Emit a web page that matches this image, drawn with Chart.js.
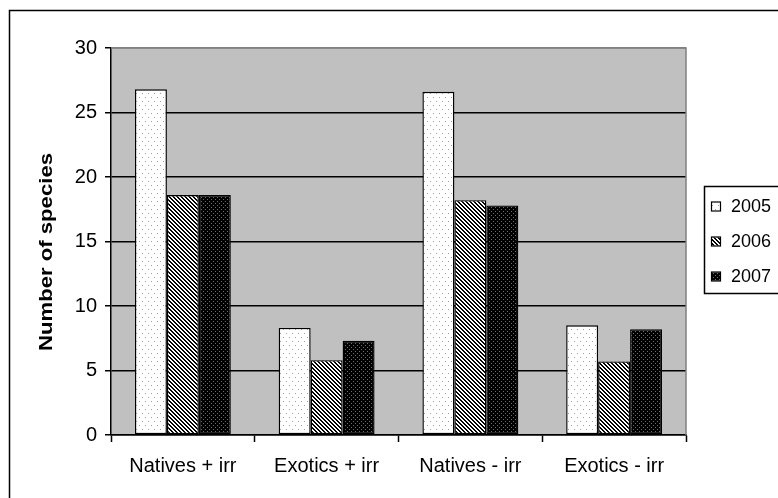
<!DOCTYPE html>
<html>
<head>
<meta charset="utf-8">
<script src="https://cdn.jsdelivr.net/npm/chart.js@4.4.1/dist/chart.umd.min.js"></script>
<style>
  html, body { margin: 0; padding: 0; background: #ffffff; }
  canvas { display: block; }
</style>
</head>
<body>
<canvas id="c" width="778" height="498"></canvas>
<script>
// Species counts per treatment and year
const categories = ['Natives + irr', 'Exotics + irr', 'Natives - irr', 'Exotics - irr'];
const years = ['2005', '2006', '2007'];
const values2005 = [26.8, 8.3, 26.6, 8.5];
const values2006 = [18.6, 5.8, 18.2, 5.7];
const values2007 = [18.6, 7.3, 17.8, 8.2];
const yTicks = [0, 5, 10, 15, 20, 25, 30];
const yTitle = 'Number of species';

const FONT = '"Liberation Sans", Arial, sans-serif';
const canvas = document.getElementById('c');
const mainCtx = canvas.getContext('2d');

// Build a small repeating bitmap fill
function makePattern(w, h, pixel) {
  const tile = document.createElement('canvas');
  tile.width = w; tile.height = h;
  const t = tile.getContext('2d');
  const img = t.createImageData(w, h);
  for (let y = 0; y < h; y++) {
    for (let x = 0; x < w; x++) {
      const v = pixel(x, y);
      const i = (y * w + x) * 4;
      img.data[i] = v; img.data[i + 1] = v; img.data[i + 2] = v; img.data[i + 3] = 255;
    }
  }
  t.putImageData(img, 0, 0);
  return mainCtx.createPattern(tile, 'repeat');
}

// white with sparse grey dots
const dotsLight = makePattern(6, 8, (x, y) => ((x === 1 && y === 1) || (x === 4 && y === 5)) ? 160 : 255);
// black/white diagonal hatch
const hatch = makePattern(4, 4, (x, y) => (((x - y) % 4 + 4) % 4 < 2) ? 0 : 255);
// black with grey dots
const dotsDark = makePattern(4, 4, (x, y) => ((x === 1 && y === 1) || (x === 3 && y === 3)) ? 110 : 0);

const fills = [dotsLight, hatch, dotsDark];

// Grey plot area, outer frame, plot border, axis title and legend box
const framePlugin = {
  id: 'frame',
  beforeDraw(chart) {
    const { ctx, chartArea: a } = chart;
    ctx.save();
    ctx.fillStyle = '#ffffff';
    ctx.fillRect(0, 0, chart.width, chart.height);
    ctx.strokeStyle = '#000000';
    ctx.lineWidth = 1.5;
    ctx.strokeRect(9.5, 10.5, 800, 520);
    ctx.fillStyle = '#c0c0c0';
    ctx.fillRect(a.left, a.top, a.right - a.left, a.bottom - a.top);
    ctx.restore();
  },
  beforeDatasetsDraw(chart) {
    const { ctx, chartArea: a } = chart;
    ctx.save();
    ctx.strokeStyle = '#808080';
    ctx.lineWidth = 1.5;
    ctx.beginPath();
    ctx.moveTo(a.left, a.top);
    ctx.lineTo(a.right, a.top);
    ctx.lineTo(a.right, a.bottom);
    ctx.stroke();
    ctx.restore();
  },
  afterDraw(chart) {
    const { ctx } = chart;
    // rotated, slightly widened axis title
    ctx.save();
    ctx.font = 'bold 18px ' + FONT;
    ctx.fillStyle = '#000000';
    ctx.textAlign = 'center';
    ctx.textBaseline = 'middle';
    ctx.translate(47, 252);
    ctx.rotate(-Math.PI / 2);
    const w = ctx.measureText(yTitle).width;
    ctx.scale(198 / w, 1);
    ctx.fillText(yTitle, 0, 0);
    ctx.restore();

    // legend
    ctx.save();
    ctx.strokeStyle = '#000000';
    ctx.lineWidth = 1.5;
    ctx.fillStyle = '#ffffff';
    ctx.fillRect(704, 186, 100, 108);
    ctx.strokeRect(704.5, 186.5, 100, 107);
    ctx.font = '18px ' + FONT;
    ctx.textBaseline = 'middle';
    ctx.textAlign = 'left';
    chart.data.datasets.forEach((ds, i) => {
      const cy = 206.5 + i * 35;
      ctx.fillStyle = ds.backgroundColor;
      ctx.fillRect(712, cy - 4, 8, 8);
      ctx.lineWidth = 1.2;
      ctx.strokeStyle = '#000000';
      ctx.strokeRect(711.5, cy - 4.5, 9, 9);
      ctx.fillStyle = '#000000';
      ctx.fillText(ds.label, 731, cy + 1);
    });
    ctx.restore();
  }
};

new Chart(canvas, {
  type: 'bar',
  data: {
    labels: categories,
    datasets: [values2005, values2006, values2007].map((vals, i) => ({
      label: years[i],
      data: vals,
      backgroundColor: fills[i],
      borderColor: '#000000',
      borderWidth: 1.4,
      borderSkipped: false,
      categoryPercentage: 0.667,
      barPercentage: 1.0
    }))
  },
  options: {
    responsive: false,
    animation: false,
    devicePixelRatio: 1,
    layout: { padding: { left: 0, top: 48, right: 92, bottom: 0 } },
    plugins: {
      legend: { display: false },
      tooltip: { enabled: false },
      title: { display: false }
    },
    scales: {
      x: {
        afterFit(scale) { scale.height = 63; },
        grid: {
          offset: true,
          drawOnChartArea: false,
          drawTicks: true,
          tickLength: 7,
          tickColor: '#000000',
          tickWidth: 1.5
        },
        border: { display: true, color: '#000000', width: 1.5 },
        ticks: {
          color: '#000000',
          font: { family: FONT, size: 20 },
          padding: 12,
          maxRotation: 0,
          autoSkip: false
        }
      },
      y: {
        min: 0,
        max: 30,
        afterFit(scale) { scale.width = 111; },
        afterBuildTicks(scale) { scale.ticks = yTicks.map(v => ({ value: v })); },
        grid: {
          color: ctx => (ctx.tick && ctx.tick.value === 30) ? '#808080' : '#000000',
          lineWidth: 1.5,
          drawTicks: true,
          tickLength: 6,
          tickColor: '#000000'
        },
        border: { display: true, color: '#000000', width: 1.5 },
        ticks: {
          color: '#000000',
          font: { family: FONT, size: 20 },
          padding: 8
        },
        title: { display: false }
      }
    }
  },
  plugins: [framePlugin]
});
</script>
</body>
</html>
